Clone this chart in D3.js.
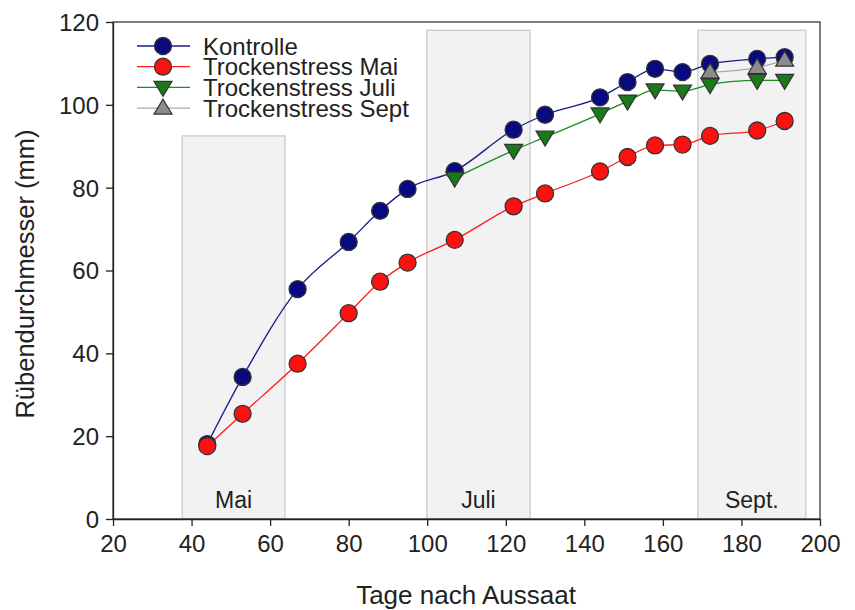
<!DOCTYPE html>
<html><head><meta charset="utf-8">
<script src="https://cdn.jsdelivr.net/npm/d3@7"></script>
<style>body{margin:0;background:#fff}svg{display:block}text{font-family:Arial,"Liberation Sans",sans-serif}</style>
</head><body><svg id="c" width="855" height="610"></svg>
<script>
const days = [44,53,67,80,88,95,107,122,130,144,151,158,165,172,184,191];
const kontrolle = [18.1,34.3,55.5,66.9,74.4,79.7,84.0,94.0,97.6,101.8,105.5,108.7,107.9,109.9,111.1,111.5];
const mai = [17.6,25.4,37.5,49.7,57.3,61.9,67.4,75.5,78.6,83.9,87.4,90.2,90.4,92.5,93.8,96.1];
const juliDays = [107,122,130,144,151,158,165,172,184,191];
const juli = [82.3,89.0,92.2,97.8,100.9,103.6,103.3,104.9,105.9,105.9];
const septDays = [172,184,191];
const sept = [107.9,109.0,110.8];
const periods = ["Mai","Juli","Sept."];
const periodStart = [37.6,99.9,168.9];
const periodEnd = [63.8,126.2,196.4];
const periodTop = [92.5,118,118];
const xTicks = [20,40,60,80,100,120,140,160,180,200];
const yTicks = [0,20,40,60,80,100,120];

const svg = d3.select("#c");
const x = d3.scaleLinear().domain([20,200]).range([113,820]);
const y = d3.scaleLinear().domain([0,120]).range([519,22]);

// shaded periods
periods.forEach((p,i)=>{
  svg.append("rect").attr("x",x(periodStart[i])).attr("y",y(periodTop[i]))
    .attr("width",x(periodEnd[i])-x(periodStart[i])).attr("height",y(0)-y(periodTop[i]))
    .attr("fill","#f2f2f2").attr("stroke","#c8c8c8").attr("stroke-width",1.2);
  svg.append("text").attr("x",(x(periodStart[i])+x(periodEnd[i]))/2).attr("y",508)
    .attr("text-anchor","middle").attr("font-size",23).attr("fill","#222").text(p);
});

// frame
svg.append("rect").attr("x",113).attr("y",22).attr("width",707).attr("height",497)
  .attr("fill","none").attr("stroke","#3a3a3a").attr("stroke-width",1.3);

// axes
const xa = svg.append("g").attr("transform","translate(0,519)")
  .call(d3.axisBottom(x).tickValues(xTicks).tickSize(7).tickSizeOuter(0).tickPadding(9));
const ya = svg.append("g").attr("transform","translate(113,0)")
  .call(d3.axisLeft(y).tickValues(yTicks).tickSize(7).tickSizeOuter(0).tickPadding(7));
[xa,ya].forEach(a=>{
  a.select(".domain").attr("stroke","#222").attr("stroke-width",1.3);
  a.selectAll(".tick line").attr("stroke","#222").attr("stroke-width",1.3);
  a.selectAll(".tick text").attr("font-size",24).attr("fill","#222").attr("font-family","Arial, 'Liberation Sans', sans-serif");
});
ya.selectAll(".tick text").attr("dy","0.35em");

svg.append("text").attr("x",466).attr("y",604).attr("text-anchor","middle")
  .attr("font-size",26).attr("fill","#222").text("Tage nach Aussaat");
svg.append("text").attr("transform","translate(34,274) rotate(-90)").attr("text-anchor","middle")
  .attr("font-size",25.5).attr("fill","#222").text("Rübendurchmesser (mm)");

const series = [
  {name:"Kontrolle", xs:days, ys:kontrolle, line:"#1a1a8c", fill:"#0a0a80", sym:d3.symbolCircle},
  {name:"Trockenstress Mai", xs:days, ys:mai, line:"#ff1a1a", fill:"#ff1010", sym:d3.symbolCircle},
  {name:"Trockenstress Juli", xs:juliDays, ys:juli, line:"#1e8c1e", fill:"#1a7a1a", sym:"down"},
  {name:"Trockenstress Sept", xs:septDays, ys:sept, line:"#a8a8a8", fill:"#8c8c8c", sym:"up"}
];

function marker(g, s, cx, cy){
  if(s.sym==="down"){
    g.append("path").attr("d",`M${cx-9},${cy-6}L${cx+9},${cy-6}L${cx},${cy+9}Z`)
      .attr("fill",s.fill).attr("stroke","#333").attr("stroke-width",1.2);
  } else if(s.sym==="up"){
    g.append("path").attr("d",`M${cx-9},${cy+6}L${cx+9},${cy+6}L${cx},${cy-9}Z`)
      .attr("fill",s.fill).attr("stroke","#333").attr("stroke-width",1.2);
  } else {
    g.append("circle").attr("cx",cx).attr("cy",cy).attr("r",8.5)
      .attr("fill",s.fill).attr("stroke","#333").attr("stroke-width",1.3);
  }
}

const line = d3.line().curve(d3.curveMonotoneX);
series.forEach(s=>{
  const pts = s.xs.map((d,i)=>[x(d),y(s.ys[i])]);
  svg.append("path").attr("d",line(pts)).attr("fill","none").attr("stroke",s.line).attr("stroke-width",1.3);
});
[0,2,3,1].forEach(k=>{
  const s = series[k];
  const g = svg.append("g");
  s.xs.forEach((d,i)=>marker(g,s,x(d),y(s.ys[i])));
});

// legend
series.forEach((s,i)=>{
  const ly = 46 + i*20.7;
  svg.append("line").attr("x1",137).attr("x2",190).attr("y1",ly).attr("y2",ly).attr("stroke",s.line).attr("stroke-width",1.3);
  marker(svg,s,163,ly);
  svg.append("text").attr("x",203).attr("y",ly).attr("dy","0.36em").attr("font-size",24).attr("fill","#222").text(s.name);
});
</script></body></html>
